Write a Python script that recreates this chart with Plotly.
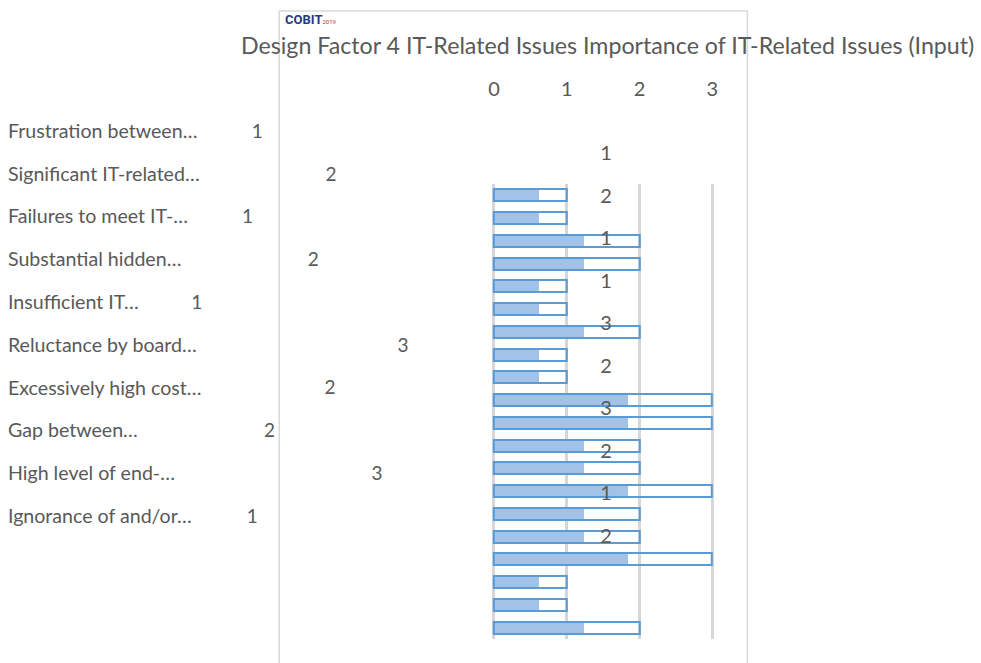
import plotly.graph_objects as go

# ---------------- data ----------------
CATEGORIES = [
    "Frustration between…",
    "Significant IT-related…",
    "Failures to meet IT-…",
    "Substantial hidden…",
    "Insufficient IT…",
    "Reluctance by board…",
    "Excessively high cost…",
    "Gap between…",
    "High level of end-…",
    "Ignorance of and/or…",
]
LEFT_VALUES = [1, 2, 1, 2, 1, 3, 2, 2, 3, 1]
MID_VALUES = [1, 2, 1, 1, 3, 2, 3, 2, 1, 2]
BAR_VALUES = [1, 1, 2, 2, 1, 1, 2, 1, 1, 3, 3, 2, 2, 3, 2, 2, 3, 1, 1, 2]
TICK_VALUES = [0, 1, 2, 3]
TITLE = "Design Factor 4 IT-Related Issues Importance of IT-Related Issues (Input)"

# ---------------- layout / style constants ----------------
W, H = 981, 663
PX_PER_UNIT = 73.4
PAD = 0.03                    # axis padding so edge gridlines are drawn
FILL_RATIO = 0.615            # gradient stop of the bar fill
LEFT_NUM_BASE_PX = [182, 183, 172, 165, 121, 182, 182, 121, 156, 177]
LABEL_LEFT_PX = 4
MID_LABEL_PX = 607
TEXT = "#595959"
GRID = "#d6d6d6"
FONT = "Lato"

fig = go.Figure()

rows = list(range(len(BAR_VALUES)))
fig.add_trace(go.Bar(
    x=[v * FILL_RATIO for v in BAR_VALUES], y=rows, orientation="h",
    marker=dict(color="#a3c2e8", line=dict(width=0)), width=0.53,
    xaxis="x", yaxis="y", hoverinfo="skip", showlegend=False))
fig.add_trace(go.Bar(
    x=BAR_VALUES, y=rows, orientation="h",
    marker=dict(color="rgba(255,255,255,0)", line=dict(color="#5b9bd5", width=2)),
    width=0.53, xaxis="x", yaxis="y", showlegend=False))

# left column: category names and values
cat_rows = list(range(len(CATEGORIES)))
fig.add_trace(go.Scatter(
    x=[LABEL_LEFT_PX / PX_PER_UNIT] * len(CATEGORIES), y=cat_rows, mode="text",
    text=CATEGORIES, textposition="middle right",
    textfont=dict(family=FONT, size=19.6, color=TEXT),
    xaxis="x2", yaxis="y2", hoverinfo="skip", showlegend=False))
fig.add_trace(go.Scatter(
    x=[b / PX_PER_UNIT + v for b, v in zip(LEFT_NUM_BASE_PX, LEFT_VALUES)],
    y=cat_rows, mode="text", text=[str(v) for v in LEFT_VALUES],
    textposition="middle center",
    textfont=dict(family=FONT, size=19, color=TEXT),
    xaxis="x2", yaxis="y2", hoverinfo="skip", showlegend=False))

# middle data labels
fig.add_trace(go.Scatter(
    x=[MID_LABEL_PX / PX_PER_UNIT] * len(MID_VALUES), y=cat_rows, mode="text",
    text=[str(v) for v in MID_VALUES], textposition="middle center",
    textfont=dict(family=FONT, size=20, color=TEXT),
    xaxis="x2", yaxis="y3", hoverinfo="skip", showlegend=False))

x0_px = 494 - PAD * PX_PER_UNIT
x1_px = 714 + PAD * PX_PER_UNIT
fig.update_layout(
    width=W, height=H, margin=dict(l=0, r=0, t=0, b=0),
    paper_bgcolor="white", plot_bgcolor="rgba(0,0,0,0)",
    barmode="overlay", bargap=0,
    font=dict(family=FONT, color=TEXT),
    xaxis=dict(domain=[x0_px / W, x1_px / W], range=[-PAD, 3 + PAD], side="top",
               tickvals=TICK_VALUES, ticktext=[str(t) for t in TICK_VALUES],
               tickfont=dict(family=FONT, size=20, color=TEXT),
               ticks="", ticklabelstandoff=83,
               showgrid=True, gridcolor=GRID, gridwidth=2.5,
               zeroline=True, zerolinecolor=GRID, zerolinewidth=2.5,
               showline=False, fixedrange=True),
    yaxis=dict(domain=[1 - 639 / H, 1 - 184 / H], range=[len(BAR_VALUES) - 0.5, -0.5],
               showticklabels=False, showgrid=False, zeroline=False, ticks="",
               fixedrange=True),
    xaxis2=dict(domain=[0, 1], range=[0, W / PX_PER_UNIT], anchor="y2",
                visible=False, fixedrange=True),
    yaxis2=dict(domain=[1 - 539.4 / H, 1 - 111.6 / H], range=[9.5, -0.5], anchor="x2",
                visible=False, fixedrange=True),
    yaxis3=dict(domain=[1 - 559.3 / H, 1 - 133.7 / H], range=[9.5, -0.5], anchor="x2",
                visible=False, fixedrange=True),
    shapes=[dict(type="rect", xref="paper", yref="paper",
                 x0=277.5 / W, x1=749.5 / W, y0=-0.05, y1=1 - 11 / H,
                 line=dict(color="#d9d9d9", width=1.5), layer="below")],
    annotations=[
        dict(text=TITLE, xref="paper", yref="paper", x=608 / W, y=1 - 45 / H,
             xanchor="center", yanchor="middle", showarrow=False,
             font=dict(family=FONT, size=23.2, color=TEXT)),
        dict(text="<b>COBIT</b><span style='font-size:6px;color:#c0392b'>2019</span>",
             xref="paper", yref="paper", x=281 / W, y=1 - 19 / H,
             xanchor="left", yanchor="middle", showarrow=False,
             font=dict(family="Roboto", size=13, color="#253a7c")),
    ],
)

fig.write_html("out.html")
